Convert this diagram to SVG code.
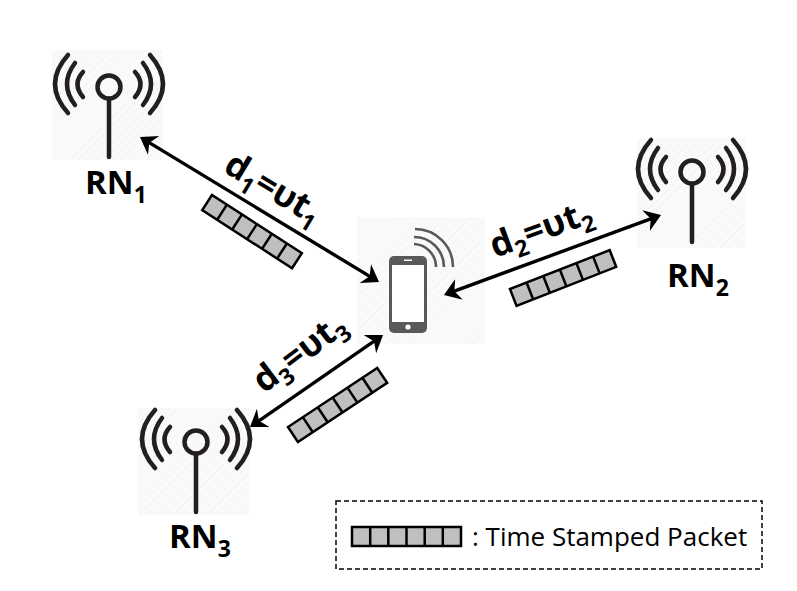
<svg xmlns="http://www.w3.org/2000/svg" width="797" height="591" viewBox="0 0 797 591">
<style>
.bd{fill:url(#hatch)}
.ant{fill:none;stroke:#231f20;stroke-width:4.5;stroke-linecap:round}
.lnk{fill:none;stroke:#000;stroke-width:3.4;marker-start:url(#ah);marker-end:url(#ah)}
.pk{fill:#bfbfbf;stroke:#000;stroke-width:2.5}
.cell{stroke:#000;stroke-width:2.5}
text{font-family:"Open Sans","Noto Sans","Liberation Sans",sans-serif;fill:#000}
.rn{font-size:33px;font-weight:700}
.eq{font-size:35px;font-weight:700}
.leg{font-size:26px}
.sub{font-size:23px}
</style>
<defs>
<pattern id="hatch" width="6" height="6" patternUnits="userSpaceOnUse" patternTransform="rotate(-45)">
<rect width="6" height="6" fill="#fafafa"/><line x1="0" y1="0" x2="6" y2="0" stroke="#f3f3f3" stroke-width="1.5"/>
</pattern>
<marker id="ah" markerUnits="userSpaceOnUse" markerWidth="18" markerHeight="26" viewBox="0 -13 18 26" refX="10" refY="0" orient="auto-start-reverse">
<path d="M16,0 L0,-11 L5,0 L0,11 Z" fill="#000"/>
</marker>
<g id="antenna">
<circle cx="0" cy="0" r="11.5"/>
<path d="M0,12 V70"/>
<path d="M-26,-15 Q-37,-3 -26,10 M26,-15 Q37,-3 26,10"/>
<path d="M-34,-24 Q-50,-3 -34,18 M34,-24 Q50,-3 34,18"/>
<path d="M-41,-32 Q-67,-3 -41,26 M41,-32 Q67,-3 41,26"/>
</g>
<g id="packet">
<rect class="pk" x="0" y="0" width="107" height="18"/>
<path class="cell" d="M17.8,0V18M35.7,0V18M53.5,0V18M71.3,0V18M89.2,0V18"/>
</g>
</defs>
<rect width="797" height="591" fill="#fff"/>

<g id="rn1">
<rect class="bd" x="52" y="50" width="111" height="110"/>
<use href="#antenna" class="ant" x="109" y="87"/>
<text class="rn" x="85" y="194">RN<tspan class="sub" dy="9">1</tspan></text>
</g>
<g id="rn2">
<rect class="bd" x="637" y="138" width="109" height="110"/>
<use href="#antenna" class="ant" x="692" y="172"/>
<text class="rn" x="667" y="287">RN<tspan class="sub" dy="9">2</tspan></text>
</g>
<g id="rn3">
<rect class="bd" x="138" y="408" width="111" height="107"/>
<use href="#antenna" class="ant" x="196" y="442"/>
<text class="rn" x="169" y="548">RN<tspan class="sub" dy="9">3</tspan></text>
</g>
<g id="phone">
<rect class="bd" x="357" y="217" width="128" height="127"/>
<rect x="389" y="256" width="38" height="77" rx="5" fill="#58595b"/>
<rect x="392" y="265" width="32" height="57" fill="#fff"/>
<circle cx="408" cy="327" r="2.6" fill="#fff"/>
<rect x="404" y="259.5" width="8" height="1.5" fill="#fff"/>
<path d="M415,229 A38,38 0 0 1 453,267 M414,237 A30,30 0 0 1 444,267 M414,244 A23,23 0 0 1 436,267" fill="none" stroke="#58595b" stroke-width="2.6"/>
</g>

<g id="connectors">
<line class="lnk" x1="145.1" y1="140.1" x2="373.9" y2="278.9"/>
<line class="lnk" x1="449.6" y1="292.9" x2="655.4" y2="217.1"/>
<line class="lnk" x1="254.9" y1="423.6" x2="378.1" y2="338.4"/>
</g>

<g id="packet1"><use href="#packet" transform="translate(212,195) rotate(32.9)"/></g>
<g id="packet2"><use href="#packet" transform="translate(510,289) rotate(-21.3)"/></g>
<g id="packet3"><use href="#packet" transform="translate(288,427) rotate(-33.5)"/></g>

<text class="eq" transform="translate(222,171) rotate(31)">d<tspan class="sub" dy="8">1</tspan><tspan dy="-8">=υt</tspan><tspan class="sub" dy="8">1</tspan></text>
<text class="eq" transform="translate(495,258) rotate(-20)">d<tspan class="sub" dy="8">2</tspan><tspan dy="-8">=υt</tspan><tspan class="sub" dy="8">2</tspan></text>
<text class="eq" transform="translate(264,394) rotate(-37)">d<tspan class="sub" dy="8">3</tspan><tspan dy="-8">=υt</tspan><tspan class="sub" dy="8">3</tspan></text>

<g id="legend">
<rect x="336" y="501" width="426" height="68" fill="none" stroke="#000" stroke-width="1.5" stroke-dasharray="5 3"/>
<rect class="pk" x="352" y="527" width="109" height="19"/>
<path class="cell" d="M370.2,527V546M388.3,527V546M406.5,527V546M424.7,527V546M442.8,527V546"/>
<text class="leg" x="472" y="546">: Time Stamped Packet</text>
</g>
</svg>
